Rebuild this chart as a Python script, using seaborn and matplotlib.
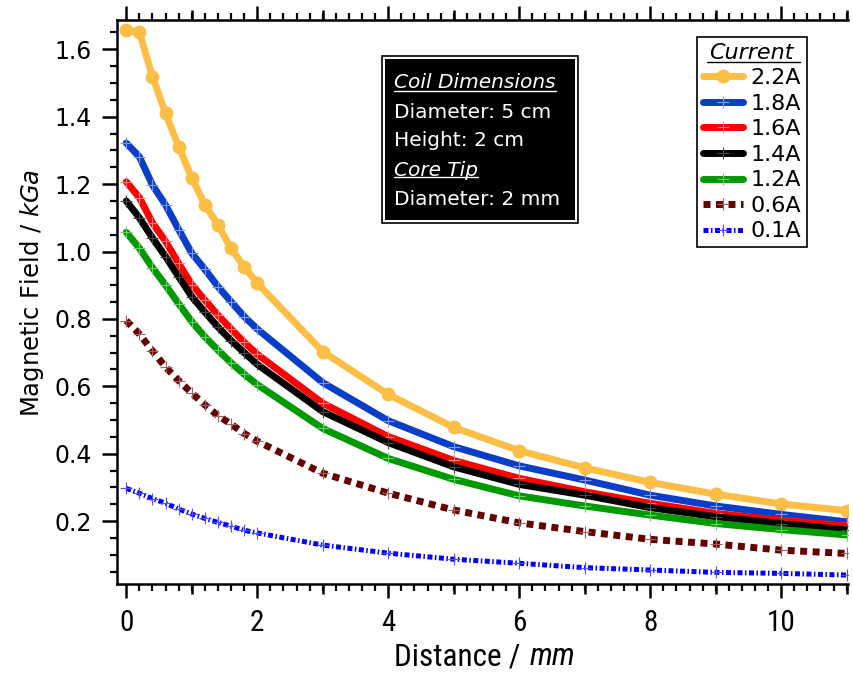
import numpy as np
import pandas as pd
import matplotlib
matplotlib.use("Agg")
import matplotlib.pyplot as plt
import seaborn as sns
from matplotlib.ticker import MultipleLocator
from matplotlib.lines import Line2D
from matplotlib.patches import Rectangle

# ---------------- data ----------------
distance = [0, 0.2, 0.4, 0.6, 0.8, 1.0, 1.2, 1.4, 1.6, 1.8, 2.0, 3, 4, 5, 6, 7, 8, 9, 10, 11]
field_2_2A = [1.657, 1.650, 1.519, 1.410, 1.311, 1.219, 1.138, 1.079, 1.009, 0.955, 0.906, 0.703, 0.576, 0.478, 0.409, 0.358, 0.315, 0.280, 0.251, 0.231]
field_1_8A = [1.322, 1.281, 1.197, 1.138, 1.065, 0.995, 0.947, 0.896, 0.851, 0.807, 0.770, 0.611, 0.498, 0.421, 0.364, 0.322, 0.277, 0.245, 0.220, 0.198]
field_1_6A = [1.207, 1.160, 1.085, 1.030, 0.965, 0.902, 0.856, 0.811, 0.770, 0.731, 0.695, 0.550, 0.451, 0.380, 0.327, 0.287, 0.253, 0.223, 0.203, 0.186]
field_1_4A = [1.150, 1.100, 1.040, 0.985, 0.925, 0.866, 0.820, 0.776, 0.736, 0.700, 0.665, 0.525, 0.433, 0.361, 0.309, 0.277, 0.240, 0.213, 0.193, 0.174]
field_1_2A = [1.057, 1.010, 0.952, 0.900, 0.845, 0.792, 0.747, 0.707, 0.670, 0.636, 0.605, 0.475, 0.386, 0.324, 0.275, 0.245, 0.218, 0.193, 0.175, 0.159]
field_0_6A = [0.795, 0.755, 0.705, 0.657, 0.617, 0.580, 0.545, 0.513, 0.488, 0.460, 0.437, 0.342, 0.283, 0.233, 0.195, 0.169, 0.146, 0.132, 0.114, 0.104]
field_0_1A = [0.297, 0.283, 0.267, 0.253, 0.236, 0.221, 0.208, 0.196, 0.185, 0.173, 0.165, 0.129, 0.105, 0.087, 0.075, 0.062, 0.055, 0.048, 0.045, 0.040]

current_labels = ["2.2A", "1.8A", "1.6A", "1.4A", "1.2A", "0.6A", "0.1A"]
legend_title = "Current"
x_label_main, x_label_unit = "Distance / ", "mm"
y_label_main, y_label_unit = "Magnetic Field / ", "kGa"
box_lines = ["Coil Dimensions", "Diameter: 5 cm", "Height: 2 cm", "Core Tip", "Diameter: 2 mm"]
box_headers = [True, False, False, True, False]

df = pd.DataFrame({
    "distance": distance,
    "2.2A": field_2_2A, "1.8A": field_1_8A, "1.6A": field_1_6A,
    "1.4A": field_1_4A, "1.2A": field_1_2A, "0.6A": field_0_6A, "0.1A": field_0_1A,
})

# ---------------- style ----------------
sns.set_theme(style="ticks")
plt.rcParams["font.family"] = ["DejaVu Sans"]
plt.rcParams["mathtext.fontset"] = "dejavusans"
for k in ["text.color", "axes.labelcolor", "xtick.color", "ytick.color", "axes.edgecolor"]:
    plt.rcParams[k] = "black"
NARROW = ["Liberation Sans Narrow", "Roboto Condensed", "Fira Sans Condensed", "Archivo Narrow", "DejaVu Sans"]

W, H = 854, 673
fig = plt.figure(figsize=(W / 100, H / 100), dpi=100)
ax = fig.add_axes([117 / W, 1 - 584 / H, (848 - 117) / W, (584 - 20) / H])

styles = {
    "2.2A": dict(color="#FDBE45", linewidth=5, linestyle="-", marker="o", markersize=10,
                 markeredgecolor="#FDBE45", markeredgewidth=0),
    "1.8A": dict(color="#0A3DC8", linewidth=5, linestyle="-", marker="+", markersize=9,
                 markeredgecolor="#7F9BE6", markeredgewidth=0.8),
    "1.6A": dict(color="#FF0000", linewidth=5, linestyle="-", marker="+", markersize=9,
                 markeredgecolor="#FF8080", markeredgewidth=0.8),
    "1.4A": dict(color="#000000", linewidth=5, linestyle="-", marker="+", markersize=9,
                 markeredgecolor="#444444", markeredgewidth=0.8),
    "1.2A": dict(color="#009A00", linewidth=5, linestyle="-", marker="+", markersize=9,
                 markeredgecolor="#70C870", markeredgewidth=0.8),
    "0.6A": dict(color="#650000", linewidth=5, linestyle=(0, (1, 0.8)), marker="+", markersize=9,
                 markeredgecolor="#A06060", markeredgewidth=0.8),
    "0.1A": dict(color="#0000FF", linewidth=3.6, linestyle=(0, (1, 0.5, 0.3, 0.5)), marker="+", markersize=9,
                 markeredgecolor="#5050FF", markeredgewidth=0.8),
}

for lab in current_labels:
    sns.lineplot(data=df, x="distance", y=lab, ax=ax, label=lab, legend=False, **styles[lab])

# ---------------- axes ----------------
ax.set_xlim(-0.142, 11.02)
ax.set_ylim(0.0135, 1.687)
ax.xaxis.set_major_locator(MultipleLocator(2))
ax.xaxis.set_minor_locator(MultipleLocator(0.2))
ax.yaxis.set_major_locator(MultipleLocator(0.2))
ax.yaxis.set_minor_locator(MultipleLocator(0.05))
ax.yaxis.set_major_formatter(matplotlib.ticker.FormatStrFormatter("%.1f"))

for s in ["left", "bottom", "top"]:
    ax.spines[s].set_linewidth(1.8)
    ax.spines[s].set_color("black")
ax.spines["right"].set_visible(False)

ax.tick_params(axis="x", which="major", direction="out", length=10, width=1.8, top=True, bottom=True,
               labeltop=False, pad=8, labelsize=21, colors="black")
ax.tick_params(axis="x", which="minor", direction="out", length=5, width=1.6, top=True, bottom=True)
ax.tick_params(axis="y", which="major", direction="out", length=11, width=1.8, left=True, right=False,
               pad=7, labelsize=17, colors="black")
ax.tick_params(axis="y", which="minor", direction="out", length=5, width=1.6, left=True, right=False)
for t in ax.get_xticklabels():
    t.set_fontfamily(NARROW)

# medium-length ticks at the odd millimetres (top and bottom)
for loc in ("bottom", "top"):
    sec = ax.secondary_xaxis(loc)
    sec.set_xticks([1, 3, 5, 7, 9, 11])
    sec.tick_params(axis="x", which="major", direction="out", length=7.5, width=1.8,
                    labelbottom=False, labeltop=False)
    sec.xaxis.set_minor_locator(matplotlib.ticker.NullLocator())
    for sp in sec.spines.values():
        sp.set_visible(False)

ax.set_xlabel("")
ax.set_ylabel(y_label_main + r"$\mathit{" + y_label_unit + "}$", fontsize=17.5)
ax.yaxis.set_label_coords(-0.097, 0.516)

# x label: upright part + italic unit, baseline-aligned
xl1 = fig.text(527 / W, 1 - 665 / H, x_label_main, fontsize=22.5, fontfamily=NARROW,
               ha="right", va="baseline")
xl2 = fig.text(530 / W, 1 - 665 / H, x_label_unit, fontsize=22.5, fontfamily=NARROW,
               style="italic", ha="left", va="baseline")

# ---------------- legend ----------------
handles, labels = ax.get_legend_handles_labels()
leg = ax.legend(handles, labels, loc="upper left", bbox_to_anchor=(697 / W, 1 - 37 / H),
                bbox_transform=fig.transFigure, frameon=True, fancybox=False, framealpha=1,
                edgecolor="black", fontsize=16, title=legend_title,
                title_fontproperties={"style": "italic", "size": 16},
                handlelength=1.8, handletextpad=0.35, borderpad=0.25, labelspacing=0.25,
                borderaxespad=0, numpoints=1)
leg.get_frame().set_linewidth(1.2)

# ---------------- text box ----------------
bx0, bx1, by0, by1 = 382, 578, 56, 223
fig.add_artist(Rectangle((bx0 / W, 1 - by1 / H), (bx1 - bx0) / W, (by1 - by0) / H,
                         transform=fig.transFigure, facecolor="white", edgecolor="black", linewidth=1.2))
inset = 3
fig.add_artist(Rectangle(((bx0 + inset) / W, 1 - (by1 - inset) / H), (bx1 - bx0 - 2 * inset) / W,
                         (by1 - by0 - 2 * inset) / H, transform=fig.transFigure,
                         facecolor="black", edgecolor="none"))
line_y = [83, 112, 141, 170, 199]
box_texts = []
for txt, yy, hdr in zip(box_lines, line_y, box_headers):
    t = fig.text(394 / W, 1 - yy / H, txt, color="white", fontsize=14.5, va="center", ha="left",
                 style="italic" if hdr else "normal", zorder=5)
    box_texts.append((t, hdr))

# ---------------- underlines ----------------
fig.canvas.draw()
r = fig.canvas.get_renderer()
for t, hdr in box_texts:
    if hdr:
        bb = t.get_window_extent(r)
        yline = bb.y0 + 2
        fig.add_artist(Line2D([bb.x0 / W, bb.x1 / W], [yline / H, yline / H], transform=fig.transFigure,
                              color="white", linewidth=1.0, zorder=6))
tt = leg.get_title()
bb = tt.get_window_extent(r)
lb = leg.get_window_extent(r)
fig.add_artist(Line2D([(lb.x0 + 10) / W, (lb.x1 - 7) / W], [(bb.y0 + 1) / H, (bb.y0 + 1) / H],
                      transform=fig.transFigure, color="black", linewidth=1.0, zorder=6))

fig.savefig("out.png", dpi=100)
